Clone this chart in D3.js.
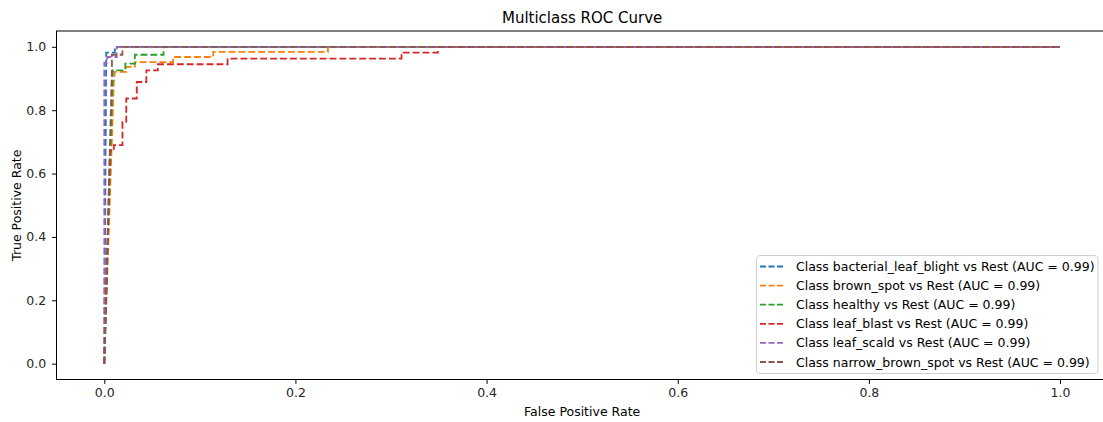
<!DOCTYPE html>
<html><head><meta charset="utf-8">
<script src="https://cdn.jsdelivr.net/npm/d3@7"></script>
<style>body{margin:0;background:#fff}svg{display:block;font-family:"DejaVu Sans",sans-serif}</style>
</head><body><svg id="c" width="1103" height="422"></svg>
<script>
const classes = ["bacterial_leaf_blight","brown_spot","healthy","leaf_blast","leaf_scald","narrow_brown_spot"];
const aucs = [0.99,0.99,0.99,0.99,0.99,0.99];
const colors = ["#1f77b4","#ff7f0e","#2ca02c","#d62728","#9467bd","#8c564b"];
const fpr_bacterial_leaf_blight = [0,0.002,0.011,0.011,1];
const tpr_bacterial_leaf_blight = [0,0.982,0.982,1,1];
const fpr_brown_spot = [0,0.010,0.011,0.023,0.023,0.032,0.032,0.072,0.072,0.114,0.114,0.234,0.234,1];
const tpr_brown_spot = [0,0.889,0.921,0.921,0.937,0.937,0.952,0.952,0.968,0.968,0.984,0.984,1,1];
const fpr_healthy = [0,0.009,0.022,0.022,0.032,0.032,0.062,0.062,1];
const tpr_healthy = [0,0.926,0.926,0.947,0.947,0.975,0.975,1,1];
const fpr_leaf_blast = [0,0.006,0.010,0.010,0.019,0.019,0.023,0.023,0.034,0.034,0.044,0.044,0.056,0.056,0.129,0.129,0.311,0.311,0.349,0.349,1];
const tpr_leaf_blast = [0,0.672,0.672,0.690,0.690,0.763,0.763,0.837,0.837,0.889,0.889,0.926,0.926,0.945,0.945,0.963,0.963,0.982,0.982,1,1];
const fpr_leaf_scald = [0,0,0.003,0.003,0.013,0.013,1];
const tpr_leaf_scald = [0,0.95,0.95,0.968,0.968,1,1];
const fpr_narrow_brown_spot = [0,0.008,0.008,0.019,0.019,1];
const tpr_narrow_brown_spot = [0,0.93,0.975,0.975,1,1];
const xTicks = [0,0.2,0.4,0.6,0.8,1.0];
const yTicks = [0,0.2,0.4,0.6,0.8,1.0];

const fprs = [fpr_bacterial_leaf_blight,fpr_brown_spot,fpr_healthy,fpr_leaf_blast,fpr_leaf_scald,fpr_narrow_brown_spot];
const tprs = [tpr_bacterial_leaf_blight,tpr_brown_spot,tpr_healthy,tpr_leaf_blast,tpr_leaf_scald,tpr_narrow_brown_spot];

const svg = d3.select("#c");
const L=56.5, R=1107.8, T=31, B=379.5;
const FS = 12.5;
const x = d3.scaleLinear().domain([-0.05,1.05]).range([L,R]);
const y = d3.scaleLinear().domain([-0.05,1.05]).range([B,T]);

const xa = svg.append("g").attr("transform",`translate(0,${B})`)
  .call(d3.axisBottom(x).tickValues(xTicks).tickFormat(d3.format(".1f")).tickSize(4.4).tickPadding(3.9));
const ya = svg.append("g").attr("transform",`translate(${L},0)`)
  .call(d3.axisLeft(y).tickValues(yTicks).tickFormat(d3.format(".1f")).tickSize(4.4).tickPadding(6));
[xa,ya].forEach(g=>{g.select(".domain").remove();
  g.selectAll("text").attr("font-size",FS+"px").attr("font-family","DejaVu Sans").attr("fill","#262626");
  g.selectAll("line").attr("stroke","#000").attr("stroke-width",1);});

const plot = svg.append("g");
const line = d3.line().x(d=>x(d[0])).y(d=>y(d[1]));
classes.forEach((c,i)=>{
  const pts = fprs[i].map((f,j)=>[f,tprs[i][j]]);
  plot.append("path").attr("d",line(pts)).attr("fill","none")
    .attr("stroke",colors[i]).attr("stroke-width",1.8).attr("stroke-dasharray","6.9,3");
});

svg.append("rect").attr("x",L).attr("y",T).attr("width",R-L).attr("height",B-T)
  .attr("fill","none").attr("stroke","#000").attr("stroke-width",1);

svg.append("text").attr("x",(L+R)/2).attr("y",22.5).attr("text-anchor","middle")
  .attr("font-size","15px").attr("fill","#000").text("Multiclass ROC Curve");
svg.append("text").attr("x",(L+R)/2).attr("y",415.5).attr("text-anchor","middle")
  .attr("font-size",FS+"px").attr("fill","#000").text("False Positive Rate");
svg.append("text").attr("transform",`translate(20.5,${(T+B)/2}) rotate(-90)`).attr("text-anchor","middle")
  .attr("font-size",FS+"px").attr("fill","#000").text("True Positive Rate");

const lg = svg.append("g");
lg.append("rect").attr("x",756.5).attr("y",255.5).attr("width",341.5).attr("height",118)
  .attr("rx",3.5).attr("fill","#fff").attr("fill-opacity",0.8).attr("stroke","#d0d0d0").attr("stroke-width",1);
classes.forEach((c,i)=>{
  const yy = 266.5 + i*19.1;
  lg.append("line").attr("x1",760).attr("x2",783).attr("y1",yy).attr("y2",yy)
    .attr("stroke",colors[i]).attr("stroke-width",1.8).attr("stroke-dasharray","6,2.5");
  lg.append("text").attr("x",796).attr("y",yy+4.5).attr("font-size",FS+"px").attr("fill","#000")
    .text(`Class ${c} vs Rest (AUC = ${aucs[i].toFixed(2)})`);
});
</script></body></html>
